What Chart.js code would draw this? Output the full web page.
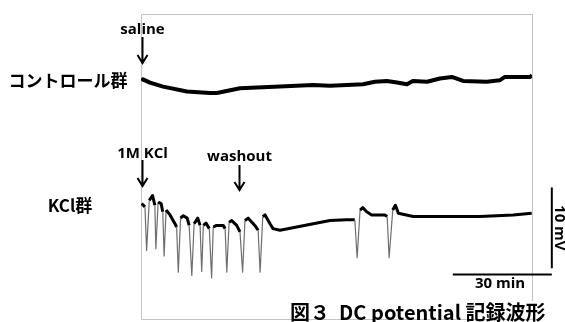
<!DOCTYPE html>
<html>
<head>
<meta charset="utf-8">
<script src="https://cdn.jsdelivr.net/npm/chart.js@4.4.1/dist/chart.umd.min.js"></script>
<style>
  body { margin: 0; background: #fff; }
</style>
</head>
<body>
<canvas id="trace" width="565" height="322"></canvas>
<script>

// temps (min) et potentiel (mV)
var controlTime = [0.2, 0.6, 2.7, 6.7, 13.9, 20.9, 23.0, 30.0, 42.1, 52.1, 57.3, 62.4, 67.3, 70.9,
  74.5, 77.6, 80.6, 82.4, 86.7, 90.6, 94.2, 97.6, 104.8, 108.8, 110.3, 117.9, 118.5];
var controlMv = [-8.3, -8.1, -8.5, -9.0, -9.6, -9.8, -9.8, -9.2, -9.0, -8.8, -8.9, -8.8, -8.7, -8.4,
  -8.3, -8.5, -8.7, -8.3, -8.4, -8.0, -7.8, -8.3, -8.4, -8.2, -7.8, -7.8, -7.6];

var kclTime = [0.2, 1.2, 1.7, 2.5, 3.5, 4.2, 4.5, 5.2, 6.1, 6.6, 7.0, 7.6, 8.8, 10.3, 10.8, 11.3,
  12.0, 12.8, 14.0, 14.6, 15.4, 16.1, 17.2, 17.9, 18.4, 18.9, 19.7, 20.7, 21.4, 21.9, 22.9, 24.9,
  25.5, 26.0, 26.7, 27.5, 29.0, 30.0, 30.8, 31.5, 32.5, 34.5, 35.5, 36.1, 36.9, 37.6, 39.1, 40.0,
  42.1, 47.2, 52.2, 57.3, 62.3, 64.8, 65.5, 66.4, 67.2, 68.4, 69.9, 73.9, 74.6, 75.2, 76.3, 77.1,
  78.0, 82.5, 92.6, 102.7, 112.8, 118.4];
var kclMv = [-23.5, -23.9, -29.3, -23.1, -22.5, -23.7, -29.1, -23.3, -23.5, -24.5, -30.0, -24.3,
  -24.9, -26.0, -26.4, -32.0, -25.3, -25.0, -25.3, -26.2, -32.4, -26.0, -25.3, -26.2, -31.9, -26.2,
  -25.9, -26.6, -32.7, -26.4, -26.2, -26.2, -26.6, -32.0, -25.8, -25.6, -26.2, -27.0, -32.0, -25.6,
  -25.3, -26.2, -26.8, -32.0, -25.1, -24.9, -26.0, -26.6, -26.8, -26.4, -26.0, -25.6, -25.5, -25.5,
  -30.2, -24.3, -24.0, -24.5, -24.9, -24.9, -25.1, -30.2, -24.3, -23.7, -24.7, -25.1, -25.1, -25.1,
  -24.9, -24.7];

var groupLabels = ['コントロール群', 'KCl群'];
var eventLabels = ['saline', '1M KCl', 'washout'];
var eventTimes = [0.2, 0.2, 29.8];
var scaleBarMin = 30;
var scaleBarMv = 10;
var captionText = '図３  DC potential 記録波形';

function toPoints(xs, ys){
  var pts = [];
  for(var i=0; i<xs.length; i++){
    pts.push({x: xs[i], y: ys[i]});
  }
  return pts;
}

// les pointes rapides sont tracees fines et grises
function spikeColor(ctx){
  return Math.abs(ctx.p0.parsed.y - ctx.p1.parsed.y) > 3 ? '#6e6e6e' : undefined;
}
function spikeWidth(ctx){
  return Math.abs(ctx.p0.parsed.y - ctx.p1.parsed.y) > 3 ? 1.2 : undefined;
}

function drawArrow(ctx, x, y0, y1){
  ctx.save();
  ctx.strokeStyle = '#000';
  ctx.lineWidth = 2;
  ctx.beginPath();
  ctx.moveTo(x, y0);
  ctx.lineTo(x, y1);
  ctx.moveTo(x - 5, y1 - 8);
  ctx.lineTo(x, y1);
  ctx.lineTo(x + 5, y1 - 8);
  ctx.stroke();
  ctx.restore();
}

var latinFont = 'bold 15px "Open Sans", sans-serif';
var cjkFont = 'bold 17px "Noto Sans CJK JP", sans-serif';

var framePlugin = {
  id: 'frame',
  beforeDatasetsDraw: function(chart){
    var a = chart.chartArea;
    var ctx = chart.ctx;
    ctx.save();
    ctx.strokeStyle = '#c4c4c4';
    ctx.lineWidth = 1;
    ctx.strokeRect(a.left + 0.5, a.top + 0.5, a.right - a.left, a.bottom - a.top);
    ctx.restore();
  },
  afterDatasetsDraw: function(chart){
    var ctx = chart.ctx;
    var xs = chart.scales.x;
    var ys = chart.scales.y;

    // fleches + textes des evenements
    var arrowY = [[37, 63], [160, 186], [165, 190]];
    var textY = [30, 154, 157];
    ctx.save();
    ctx.fillStyle = '#000';
    ctx.textAlign = 'center';
    ctx.textBaseline = 'middle';
    ctx.font = latinFont;
    for(var i=0; i<eventLabels.length; i++){
      var ex = Math.round(xs.getPixelForValue(eventTimes[i])) + 0.5;
      drawArrow(ctx, ex, arrowY[i][0], arrowY[i][1]);
      ctx.fillText(eventLabels[i], ex, textY[i]);
    }

    // noms des groupes
    ctx.font = cjkFont;
    ctx.fillText(groupLabels[0], 68, 81);
    ctx.fillText(groupLabels[1], 70, 206);

    // barres d'echelle
    var t0 = 94.5;
    var bx0 = xs.getPixelForValue(t0);
    var bx1 = xs.getPixelForValue(t0 + scaleBarMin);
    var by = ys.getPixelForValue(-32.3);
    var vy0 = ys.getPixelForValue(-21.5);
    var vy1 = ys.getPixelForValue(-21.5 - scaleBarMv);
    ctx.strokeStyle = '#000';
    ctx.lineWidth = 2;
    ctx.beginPath();
    ctx.moveTo(bx0, by);
    ctx.lineTo(bx1, by);
    ctx.moveTo(bx1, vy0);
    ctx.lineTo(bx1, vy1);
    ctx.stroke();

    ctx.font = latinFont;
    ctx.fillText(scaleBarMin + ' min', 500, 284);
    ctx.save();
    ctx.translate(559, (vy0 + vy1) / 2);
    ctx.rotate(Math.PI / 2);
    ctx.fillText(scaleBarMv + ' mV', 0, 0);
    ctx.restore();

    // legende de la figure
    ctx.fillStyle = '#fff';
    ctx.fillRect(288, 301, 262, 17);
    ctx.fillStyle = '#000';
    ctx.font = 'bold 20px "Noto Sans CJK JP", sans-serif';
    ctx.textAlign = 'left';
    ctx.textBaseline = 'alphabetic';
    ctx.fillText(captionText, 290, 320);
    ctx.restore();
  }
};

new Chart(document.getElementById('trace'), {
  type: 'line',
  data: {
    datasets: [
      {
        label: groupLabels[0],
        data: toPoints(controlTime, controlMv),
        borderColor: '#000',
        borderWidth: 4,
        borderJoinStyle: 'round',
        pointRadius: 0,
        tension: 0
      },
      {
        label: groupLabels[1],
        data: toPoints(kclTime, kclMv),
        borderColor: '#000',
        borderWidth: 3,
        borderJoinStyle: 'round',
        pointRadius: 0,
        tension: 0,
        segment: {
          borderColor: spikeColor,
          borderWidth: spikeWidth
        }
      }
    ]
  },
  options: {
    responsive: false,
    animation: false,
    layout: { padding: { left: 141, top: 14, right: 33, bottom: 3 } },
    plugins: { legend: { display: false }, tooltip: { enabled: false } },
    scales: {
      x: { type: 'linear', min: 0, max: 118.5, display: false },
      y: { min: -37.8, max: 0, display: false }
    }
  },
  plugins: [framePlugin]
});
</script>
</body>
</html>
